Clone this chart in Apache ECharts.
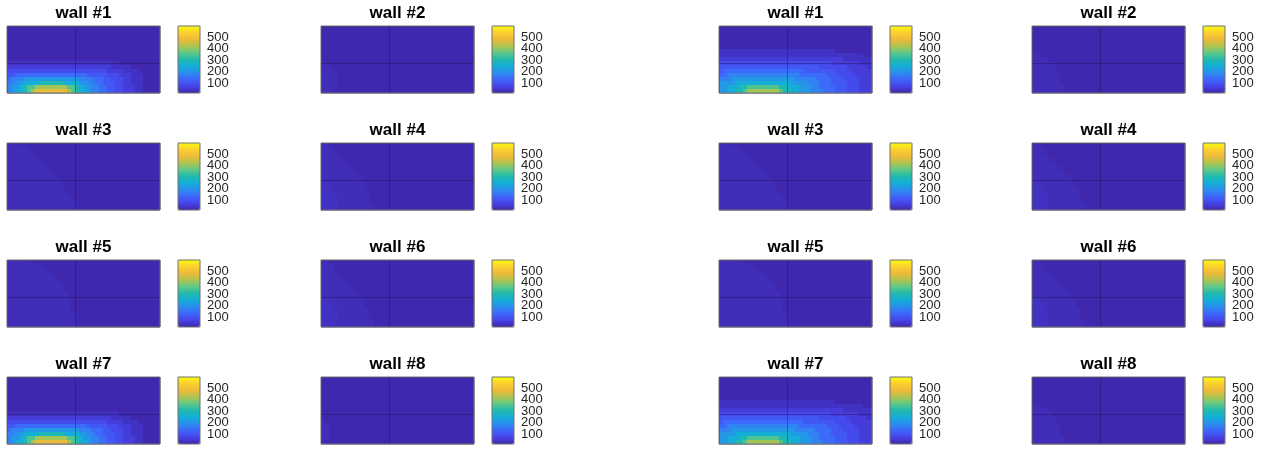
<!DOCTYPE html>
<html><head><meta charset="utf-8">
<script src="https://cdn.jsdelivr.net/npm/echarts@6/dist/echarts.min.js"></script>
<style>html,body{margin:0;padding:0;background:#fff}#c{width:1265px;height:449px}</style>
</head><body><div id="c"></div>
<script>
// ---- contour level codes -> values ----
const LEVEL_KEYS   = ['0','s','1','2','3','4','5','6','7','8','9','a','b','c'];
const LEVEL_VALUES = [20, 30, 40, 60, 85, 110, 140, 175, 210, 250, 300, 350, 415, 475];
const COLORBAR_TICKS = [100, 200, 300, 400, 500];
const COLOR_MIN = 15, COLOR_MAX = 598;
const N_COLS = 38;

// each wall: 17 rows (top -> bottom), 38 columns (left -> right); missing tail = background '0'
const wall1Left = [
 '','','','','','','','','',
 '1111 1111 1111 1111 1111 1111 1111',
 '2222 2222 2222 2222 2222 2222 2211 111',
 '3333 3333 3333 3333 3333 3333 3222 2111 1',
 '4455 5555 5555 5555 5555 4444 4333 2221 11',
 '5666 7777 7777 7777 7766 6555 4433 3221 11',
 '6677 8888 9999 9988 8877 6655 4443 3221 11',
 '6778 9aab bbbb bbba a987 7665 5443 3222 11',
 '6788 9abc cccc cccb a988 7665 5443 3222 11'
];
const wall1Right = [
 '','','','','','',
 '1111 1111 1111 1111 1111 1111 1111 1',
 '1111 1111 1111 1111 1111 1111 1111 1111 1111',
 '2222 2222 2222 2222 2222 2222 2222 2221 1111 11',
 '3333 3333 3333 3333 3333 3333 3333 2222 2221 11',
 '4444 4444 4444 4444 4444 4444 4333 3333 2222 21',
 '4555 5555 5555 5555 5555 5444 4444 4333 3222 22',
 '5566 6666 6666 6666 6666 5555 5554 4433 3322 22',
 '6667 7777 7777 7777 7776 6666 5555 4443 3332 22',
 '7777 8888 8888 8888 8877 7766 6555 4444 3332 22',
 '7788 899a aaaa aaa9 9888 7776 6555 5444 3332 22',
 '7788 99ab bbbb bbba 9988 7776 6655 5444 3332 22'
];
const wall2Left = ['','','','','','','','','','',
 'ss','sss','ssss','ssss','ssss','ssss','sss'];
const wall2Right = ['','','','','','','',
 'ss','ssss','ssss s','ssss ss','ssss ss','ssss sss','ssss sss','ssss sss','ssss ssss','ssss ssss'];
const wall3Left = [
 'sss','ssss s','ssss ss','ssss sss','ssss ssss','ssss ssss s','ssss ssss ss','ssss ssss sss',
 'ssss ssss ssss','ssss ssss ssss s','ssss ssss ssss ss','ssss ssss ssss ss','ssss ssss ssss sss',
 'ssss ssss ssss ssss','ssss ssss ssss ssss','ssss ssss ssss ssss s','ssss ssss ssss ssss s'];
const wall3Right = wall3Left.slice();
const wall4Left = [
 'ss','sss','sss','ssss','ssss s','ssss ss','ssss sss','ssss ssss','ssss ssss s','ssss ssss ss',
 '11ss ssss sss','111s ssss sss','111s ssss ssss','1111 ssss ssss','1111 ssss ssss',
 '1111 ssss ssss s','1111 ssss ssss s'];
const wall4Right = wall4Left.slice();
const wall5Left = [
 'ssss s','ssss ssss','ssss ssss s','ssss ssss sss','ssss ssss ssss','ssss ssss ssss s',
 'ssss ssss ssss ss','ssss ssss ssss ss','ssss ssss ssss sss','ssss ssss ssss sss',
 'ssss ssss ssss ssss','ssss ssss ssss ssss','ssss ssss ssss ssss','ssss ssss ssss ssss s',
 'ssss ssss ssss ssss s','ssss ssss ssss ssss s','ssss ssss ssss ssss s'];
const wall5Right = wall5Left.slice();
const wall6Left = wall4Left.slice();
const wall6Right = wall4Left.slice();
const wall7Left = wall1Left.slice();
const wall7Right = wall1Right.slice();
const wall8Left = ['','','','','','','','','','','','s','ss','ss','ss','ss','s'];
const wall8Right = wall2Right.slice();

const panelTitles = ['wall #1','wall #2','wall #1','wall #2',
                     'wall #3','wall #4','wall #3','wall #4',
                     'wall #5','wall #6','wall #5','wall #6',
                     'wall #7','wall #8','wall #7','wall #8'];
const panelData = [wall1Left, wall2Left, wall1Right, wall2Right,
                   wall3Left, wall4Left, wall3Right, wall4Right,
                   wall5Left, wall6Left, wall5Right, wall6Right,
                   wall7Left, wall8Left, wall7Right, wall8Right];

// ---- styling / layout ----
const PARULA = ['#3e26a8','#4743e8','#3e65fa','#2b8ded','#14aed8','#20b9ad','#5ec988','#aec44f','#eeba39','#fccf30','#f9fb0e'];
const COL_LEFT = [7, 321, 719, 1032];
const ROW_TOP = [26, 143, 260, 377];
const PW = 153, PH = 67, CB_DX = 171, CB_W = 22;
const FRAME = '#707070';
const GRIDLINE = 'rgba(20,15,60,0.35)';

function toCells(rows) {
  const out = [];
  rows.forEach((r, i) => {
    const s = r.replace(/ /g, '').padEnd(N_COLS, '0');
    for (let j = 0; j < N_COLS; j++) out.push([j, i, LEVEL_VALUES[LEVEL_KEYS.indexOf(s[j])]]);
  });
  return out;
}
const colCats = Array.from({length: N_COLS}, (_, j) => String(j));
const rowCats = Array.from({length: 17}, (_, i) => String(i));

function renderCell(params, api) {
  const p = api.coord([api.value(0), api.value(1)]);
  const sz = api.size([1, 1]);
  const x0 = Math.floor(p[0] - sz[0] / 2), x1 = Math.ceil(p[0] + sz[0] / 2);
  const y0 = Math.floor(p[1] - sz[1] / 2), y1 = Math.ceil(p[1] + sz[1] / 2);
  return {type: 'rect', shape: {x: x0, y: y0, width: x1 - x0, height: y1 - y0},
          style: {fill: api.visual('color')}};
}

// colorbar labels are split over two coincident axes so none gets hidden as "overlapping"
const tickSetA = COLORBAR_TICKS.filter((_, k) => k % 2 === 0);
const tickSetB = COLORBAR_TICKS.filter((_, k) => k % 2 === 1);
function cbAxis(gi, ticks) {
  return {type: 'value', gridIndex: gi, min: COLOR_MIN, max: COLOR_MAX, position: 'right', offset: 0,
          axisLine: {show: false}, axisTick: {show: false}, splitLine: {show: false},
          axisLabel: {show: true, customValues: ticks, showMinLabel: true, showMaxLabel: true,
                      margin: 7, fontSize: 13, color: '#262626', fontFamily: 'Liberation Sans'}};
}

const grid = [], xAxis = [], yAxis = [], series = [], visualMap = [], title = [];
const cbGrids = [], cbX = [], cbY = [];
panelData.forEach((rows, i) => {
  const r = Math.floor(i / 4), c = i % 4;
  const left = COL_LEFT[c], top = ROW_TOP[r];
  grid.push({left, top, width: PW, height: PH, show: true, borderColor: FRAME, borderWidth: 1,
             backgroundColor: 'transparent', z: 10});
  xAxis.push({type: 'category', gridIndex: i, data: colCats, show: false});
  xAxis.push({type: 'value', gridIndex: i, min: 0, max: 1, interval: 0.554, inverse: true, z: 5,
              axisLine: {show: false}, axisTick: {show: false}, axisLabel: {show: false},
              splitLine: {show: true, lineStyle: {color: GRIDLINE, width: 1}}});
  yAxis.push({type: 'category', gridIndex: i, data: rowCats, inverse: true, show: false});
  yAxis.push({type: 'value', gridIndex: i, min: 0, max: 1, interval: 0.556, inverse: true, z: 5,
              axisLine: {show: false}, axisTick: {show: false}, axisLabel: {show: false},
              splitLine: {show: true, lineStyle: {color: GRIDLINE, width: 1}}});
  series.push({type: 'custom', xAxisIndex: 2 * i, yAxisIndex: 2 * i, data: toCells(rows),
               encode: {x: 0, y: 1}, renderItem: renderCell, progressive: 0, silent: true, clip: true});
  visualMap.push({type: 'continuous', seriesIndex: i, dimension: 2, min: COLOR_MIN, max: COLOR_MAX,
                  inRange: {color: PARULA}, left: left + CB_DX, top, itemWidth: CB_W, itemHeight: PH,
                  padding: 0, calculable: false, hoverLink: false, orient: 'vertical'});
  cbGrids.push({left: left + CB_DX, top, width: CB_W, height: PH, show: true, borderColor: FRAME,
                borderWidth: 1, backgroundColor: 'transparent', z: 10});
  cbX.push({type: 'value', gridIndex: 16 + i, min: 0, max: 1, show: false});
  cbY.push(cbAxis(16 + i, tickSetA));
  cbY.push(cbAxis(16 + i, tickSetB));
  title.push({text: panelTitles[i], left: left + PW / 2, top: top - 22, padding: 0,
              textAlign: 'center', textVerticalAlign: 'top',
              textStyle: {fontSize: 17, fontWeight: 'bold', color: '#000', fontFamily: 'Liberation Sans', lineHeight: 18}});
});

const chart = echarts.init(document.getElementById('c'), null, {renderer: 'canvas'});
chart.setOption({
  animation: false,
  title,
  grid: grid.concat(cbGrids),
  xAxis: xAxis.concat(cbX),
  yAxis: yAxis.concat(cbY),
  visualMap,
  series
});
</script></body></html>
